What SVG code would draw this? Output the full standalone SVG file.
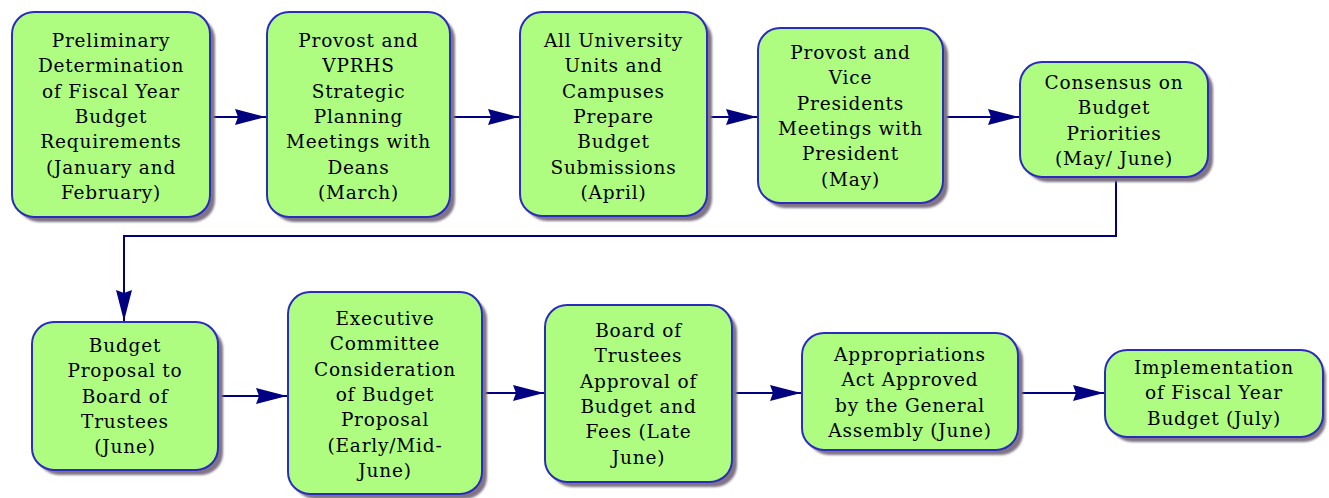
<svg xmlns="http://www.w3.org/2000/svg" width="1329" height="498" viewBox="0 0 1329 498">
<style>
.box{fill:#aefd80;stroke:#2b2bc0;stroke-width:2}
.sh{fill:#7f7585;filter:url(#blur)}
.t{font-family:"DejaVu Serif","Liberation Serif",serif;font-size:18.5px;letter-spacing:0.8px;fill:#000;text-anchor:middle}
.c{fill:none;stroke:#000080;stroke-width:2}
</style>
<defs>
<filter id="blur" x="-10%" y="-10%" width="120%" height="120%"><feGaussianBlur stdDeviation="0.8"/></filter>
<marker id="ah" markerUnits="userSpaceOnUse" markerWidth="32" markerHeight="18" refX="31" refY="9" orient="auto"><path d="M0,1 L31,9 L0,17 L3,9 Z" fill="#000080"/></marker>
</defs>
<g id="connectors">
<path class="c" d="M210,117 H266" marker-end="url(#ah)"/>
<path class="c" d="M450,117 H519" marker-end="url(#ah)"/>
<path class="c" d="M707,117 H757" marker-end="url(#ah)"/>
<path class="c" d="M943,117 H1019" marker-end="url(#ah)"/>
<path class="c" d="M1116,177 V236 H124 V321" marker-end="url(#ah)"/>
<path class="c" d="M218,396 H287" marker-end="url(#ah)"/>
<path class="c" d="M482,393 H544" marker-end="url(#ah)"/>
<path class="c" d="M732,393 H801" marker-end="url(#ah)"/>
<path class="c" d="M1018,393 H1104" marker-end="url(#ah)"/>
</g>
<g id="n1">
<rect class="sh" x="17" y="17" width="198" height="205" rx="22"/>
<rect class="box" x="12" y="12" width="198" height="205" rx="22"/>
<text class="t"><tspan x="111" y="47">Preliminary</tspan><tspan x="111" dy="25.3">Determination</tspan><tspan x="111" dy="25.3">of Fiscal Year</tspan><tspan x="111" dy="25.3">Budget</tspan><tspan x="111" dy="25.3">Requirements</tspan><tspan x="111" dy="25.3">(January and</tspan><tspan x="111" dy="25.3">February)</tspan></text>
</g>
<g id="n2">
<rect class="sh" x="272" y="17" width="183" height="205" rx="22"/>
<rect class="box" x="267" y="12" width="183" height="205" rx="22"/>
<text class="t"><tspan x="358.5" y="47">Provost and</tspan><tspan x="358.5" dy="25.3">VPRHS</tspan><tspan x="358.5" dy="25.3">Strategic</tspan><tspan x="358.5" dy="25.3">Planning</tspan><tspan x="358.5" dy="25.3">Meetings with</tspan><tspan x="358.5" dy="25.3">Deans</tspan><tspan x="358.5" dy="25.3">(March)</tspan></text>
</g>
<g id="n3">
<rect class="sh" x="525" y="17" width="187" height="204" rx="22"/>
<rect class="box" x="520" y="12" width="187" height="204" rx="22"/>
<text class="t"><tspan x="613.5" y="47">All University</tspan><tspan x="613.5" dy="25.3">Units and</tspan><tspan x="613.5" dy="25.3">Campuses</tspan><tspan x="613.5" dy="25.3">Prepare</tspan><tspan x="613.5" dy="25.3">Budget</tspan><tspan x="613.5" dy="25.3">Submissions</tspan><tspan x="613.5" dy="25.3">(April)</tspan></text>
</g>
<g id="n4">
<rect class="sh" x="763" y="33" width="185" height="175" rx="22"/>
<rect class="box" x="758" y="28" width="185" height="175" rx="22"/>
<text class="t"><tspan x="850.5" y="59">Provost and</tspan><tspan x="850.5" dy="25.3">Vice</tspan><tspan x="850.5" dy="25.3">Presidents</tspan><tspan x="850.5" dy="25.3">Meetings with</tspan><tspan x="850.5" dy="25.3">President</tspan><tspan x="850.5" dy="25.3">(May)</tspan></text>
</g>
<g id="n5">
<rect class="sh" x="1025" y="67" width="188" height="115" rx="22"/>
<rect class="box" x="1020" y="62" width="188" height="115" rx="22"/>
<text class="t"><tspan x="1114" y="89">Consensus on</tspan><tspan x="1114" dy="25.3">Budget</tspan><tspan x="1114" dy="25.3">Priorities</tspan><tspan x="1114" dy="25.3">(May/ June)</tspan></text>
</g>
<g id="n6">
<rect class="sh" x="37" y="327" width="186" height="148" rx="22"/>
<rect class="box" x="32" y="322" width="186" height="148" rx="22"/>
<text class="t"><tspan x="125" y="352">Budget</tspan><tspan x="125" dy="25.3">Proposal to</tspan><tspan x="125" dy="25.3">Board of</tspan><tspan x="125" dy="25.3">Trustees</tspan><tspan x="125" dy="25.3">(June)</tspan></text>
</g>
<g id="n7">
<rect class="sh" x="293" y="297" width="194" height="202" rx="22"/>
<rect class="box" x="288" y="292" width="194" height="202" rx="22"/>
<text class="t"><tspan x="385" y="325">Executive</tspan><tspan x="385" dy="25.3">Committee</tspan><tspan x="385" dy="25.3">Consideration</tspan><tspan x="385" dy="25.3">of Budget</tspan><tspan x="385" dy="25.3">Proposal</tspan><tspan x="385" dy="25.3">(Early/Mid-</tspan><tspan x="385" dy="25.3">June)</tspan></text>
</g>
<g id="n8">
<rect class="sh" x="550" y="310" width="187" height="177" rx="22"/>
<rect class="box" x="545" y="305" width="187" height="177" rx="22"/>
<text class="t"><tspan x="638.5" y="337">Board of</tspan><tspan x="638.5" dy="25.3">Trustees</tspan><tspan x="638.5" dy="25.3">Approval of</tspan><tspan x="638.5" dy="25.3">Budget and</tspan><tspan x="638.5" dy="25.3">Fees (Late</tspan><tspan x="638.5" dy="25.3">June)</tspan></text>
</g>
<g id="n9">
<rect class="sh" x="807" y="338" width="216" height="117" rx="22"/>
<rect class="box" x="802" y="333" width="216" height="117" rx="22"/>
<text class="t"><tspan x="910" y="361">Appropriations</tspan><tspan x="910" dy="25.3">Act Approved</tspan><tspan x="910" dy="25.3">by the General</tspan><tspan x="910" dy="25.3">Assembly (June)</tspan></text>
</g>
<g id="n10">
<rect class="sh" x="1110" y="355" width="216" height="87" rx="22"/>
<rect class="box" x="1105" y="350" width="218" height="87" rx="22"/>
<text class="t"><tspan x="1214" y="374">Implementation</tspan><tspan x="1214" dy="25.3">of Fiscal Year</tspan><tspan x="1214" dy="25.3">Budget (July)</tspan></text>
</g>
</svg>
